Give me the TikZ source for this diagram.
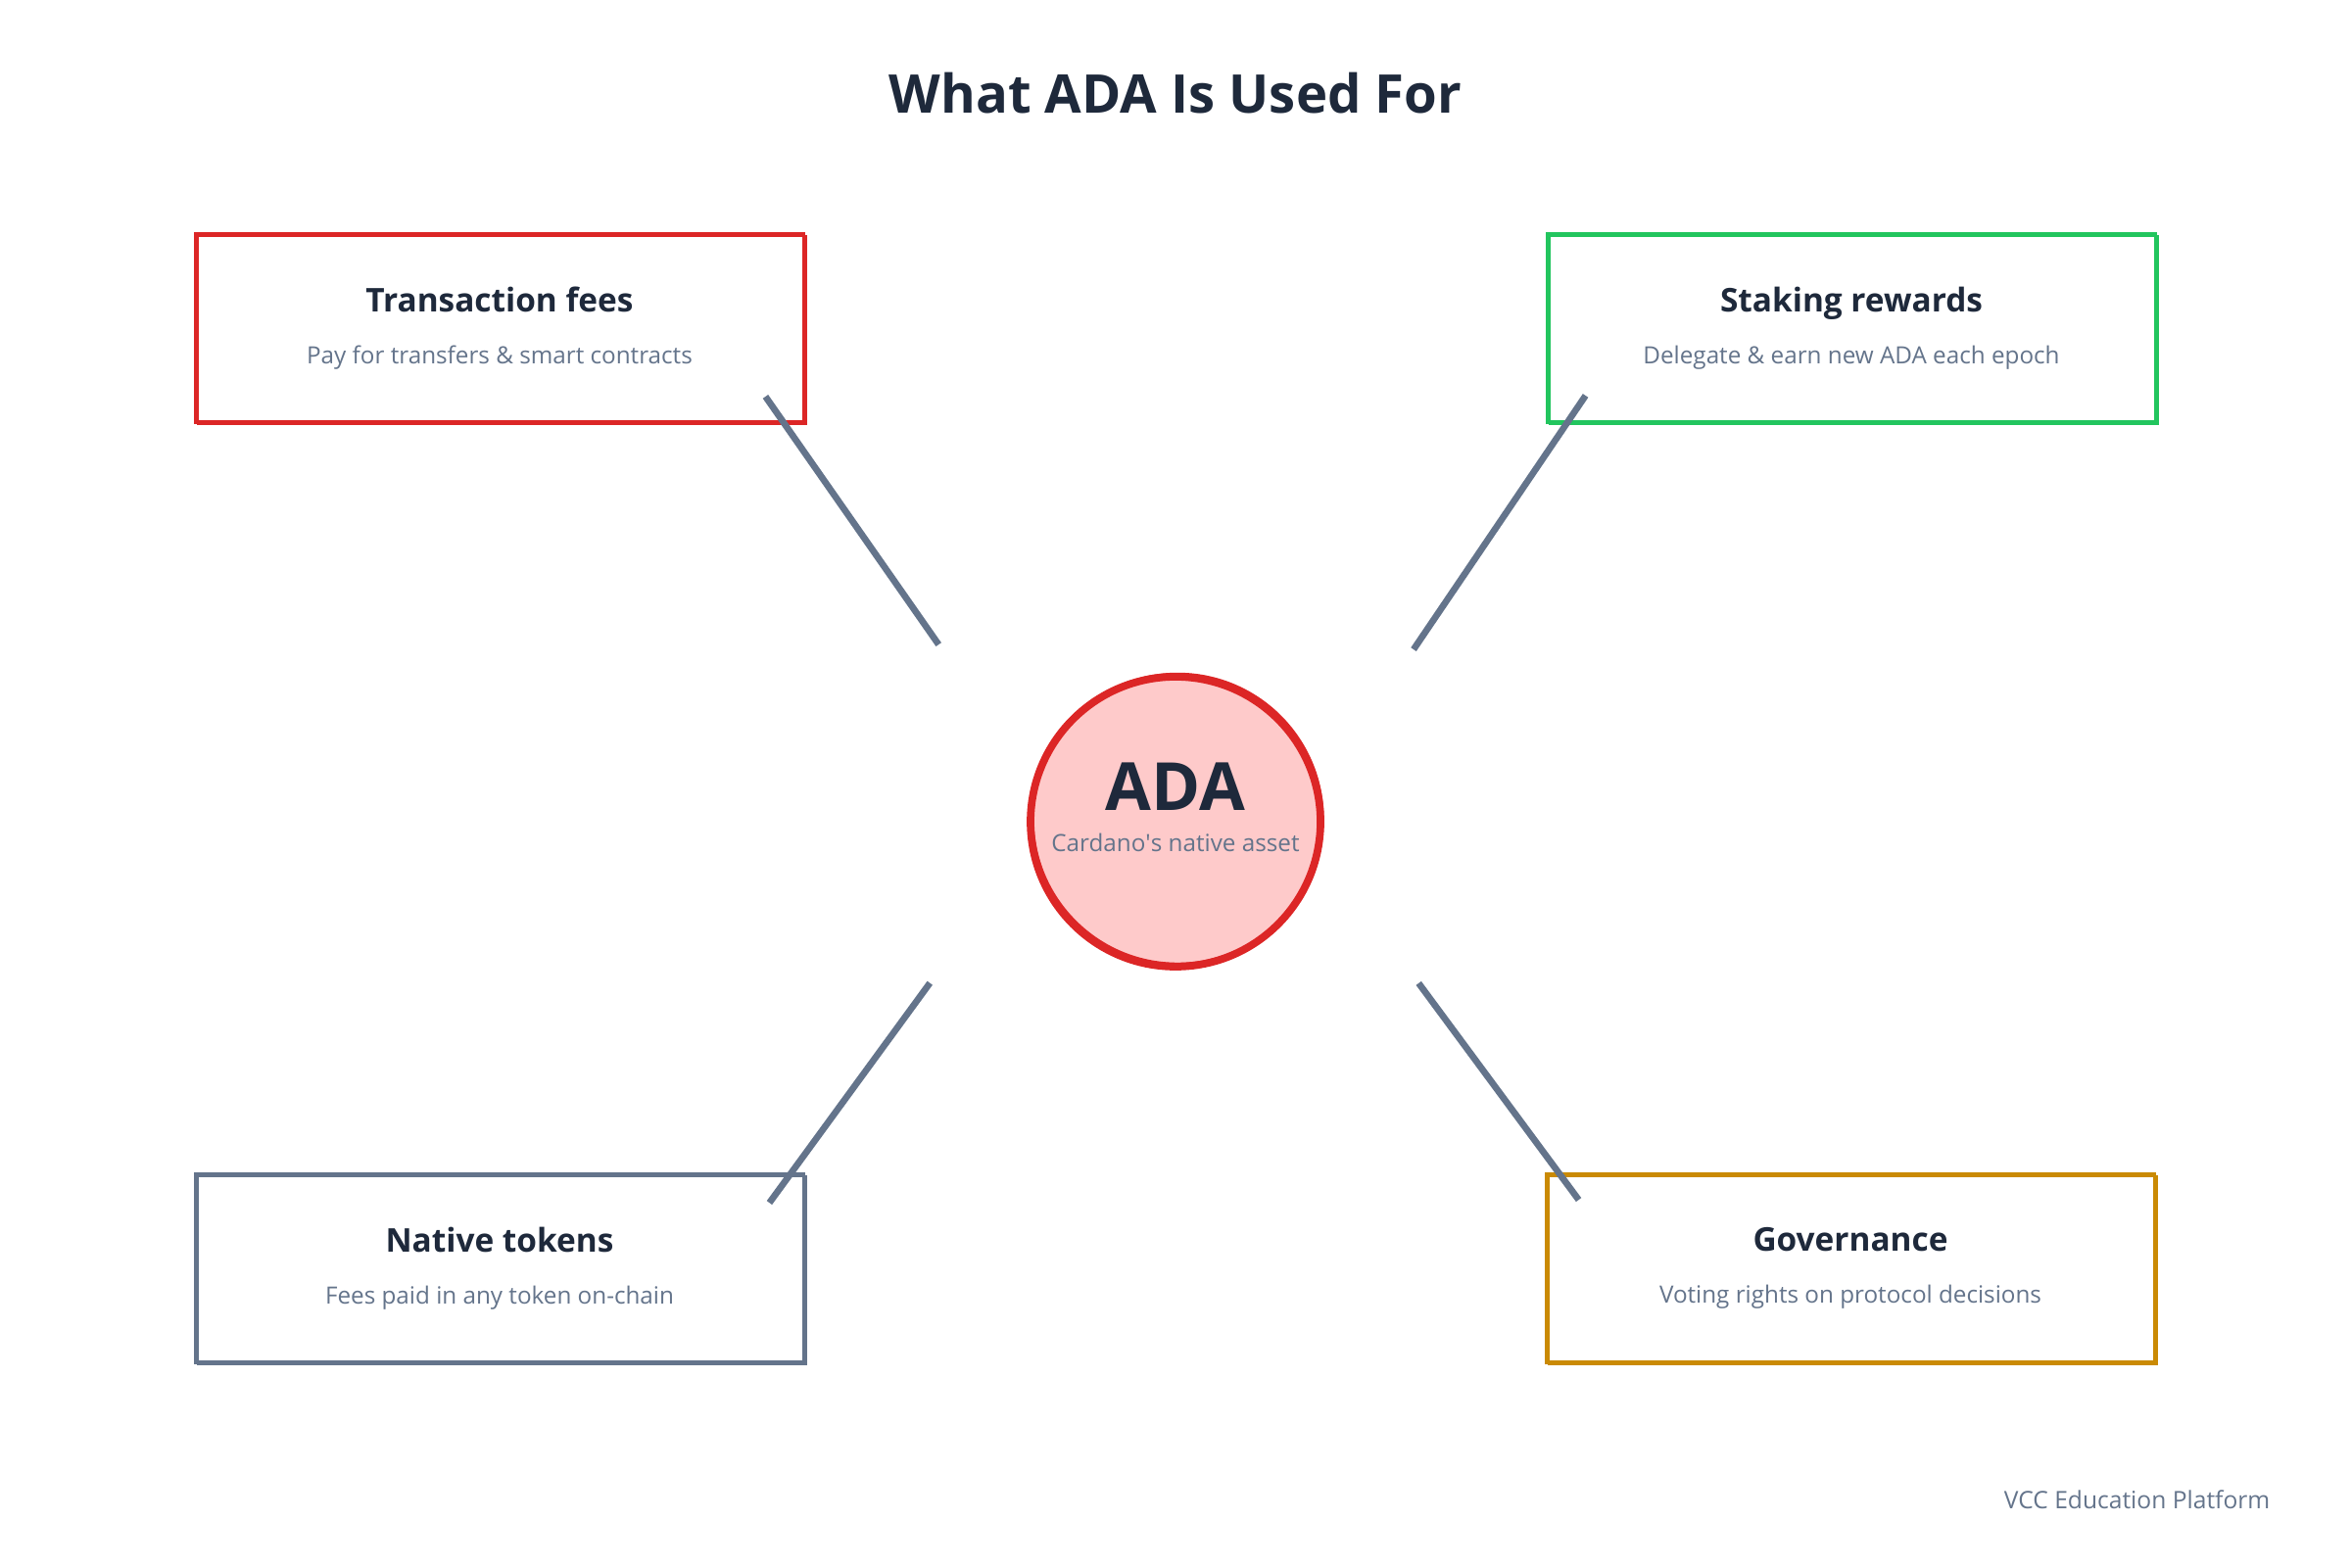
\documentclass[tikz,border=0pt]{standalone}
\usepackage{fontspec}
\setmainfont{Open Sans}
\usepackage{xcolor}
\usetikzlibrary{positioning,calc}

\definecolor{inkdark}{HTML}{1E293B}
\definecolor{inkgray}{HTML}{64748B}
\definecolor{adared}{HTML}{DC2626}
\definecolor{adapink}{HTML}{FECACA}
\definecolor{stakegreen}{HTML}{22C55E}
\definecolor{govamber}{HTML}{CA8A04}

\newcommand{\usetext}[2]{{\fontsize{9.5}{12}\selectfont\bfseries\color{inkdark}#1}\\[3pt]{\fontsize{6.9}{8}\selectfont\color{inkgray}#2}}

\begin{document}
\begin{tikzpicture}[
  usebox/.style={draw=#1, line width=1.1pt, fill=white, align=center, minimum width=62.1mm, minimum height=19.2mm, inner sep=0pt,
    postaction={draw=#1, line width=0.5pt, transform canvas={xshift=0.8pt, yshift=-0.6pt}}},
  coin/.style={circle, draw=adared, fill=adapink, line width=2.2pt, minimum size=29.6mm, inner sep=0pt,
    postaction={draw=adared, line width=0.8pt, transform canvas={xshift=0.6pt, yshift=0.8pt}}},
  link/.style={draw=inkgray, line width=1.9pt}
]
\useasboundingbox (0,0) rectangle (24,-16);

\node[font=\fontsize{15.5}{18}\selectfont\bfseries, text=inkdark] (title) at (12,-0.95) {What ADA Is Used For};

\node[coin] (ada) at (12,-8.39) {};
\node[align=center] (adatext) at ($(ada)+(0,0.145)$) {{\fontsize{19.3}{22}\selectfont\bfseries\color{inkdark}ADA}\\[0pt]{\fontsize{6.9}{8}\selectfont\color{inkgray}Cardano\textquotesingle s native asset}};

\node[usebox=adared] (fees) at (5.10,-3.35) {\usetext{Transaction fees}{Pay for transfers \& smart contracts}};
\node[usebox=stakegreen] (staking) at (18.90,-3.35) {\usetext{Staking rewards}{Delegate \& earn new ADA each epoch}};
\node[usebox=inkgray] (tokens) at (5.10,-12.95) {\usetext{Native tokens}{Fees paid in any token on-chain}};
\node[usebox=govamber] (gov) at (18.89,-12.95) {\usetext{Governance}{Voting rights on protocol decisions}};

\draw[link] ($(ada.center)+(143.2:3.02)$) -- ($(fees.south east)+(-0.41,0.28)$);
\draw[link] ($(ada.center)+(35.9:3.00)$) -- ($(staking.south west)+(0.41,0.29)$);
\draw[link] ($(ada.center)+(213.3:3.00)$) -- ($(tokens.north east)+(-0.37,-0.31)$);
\draw[link] ($(ada.center)+(326.4:2.98)$) -- ($(gov.north west)+(0.35,-0.28)$);

\node[anchor=east, inner sep=0pt, font=\fontsize{7}{9}\selectfont, text=inkgray] (credit) at (23.18,-15.31) {VCC Education Platform};
\end{tikzpicture}
\end{document}
